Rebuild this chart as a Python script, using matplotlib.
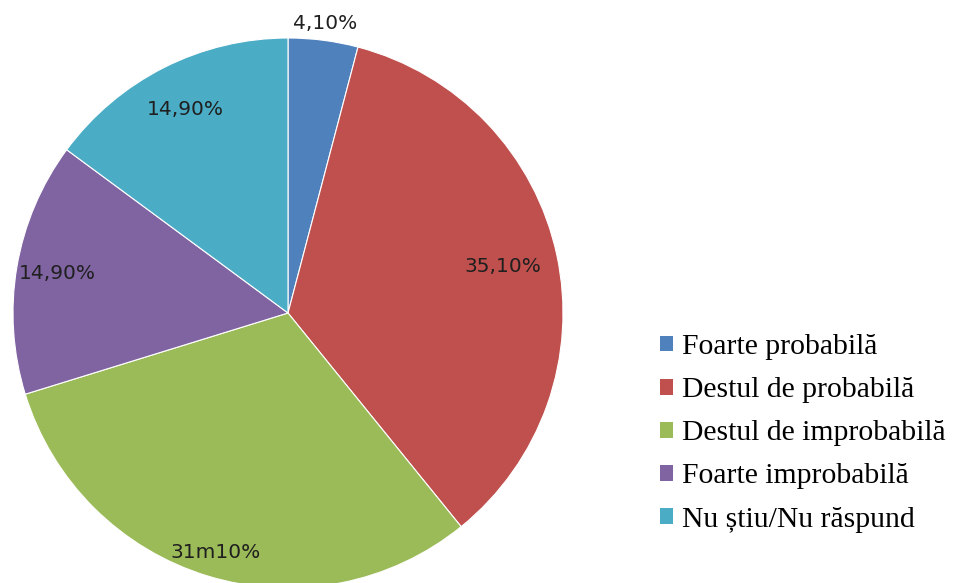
import numpy as np
import matplotlib
matplotlib.use("Agg")
import matplotlib.pyplot as plt
from matplotlib.patches import Patch

categories = ["Foarte probabilă", "Destul de probabilă", "Destul de improbabilă",
              "Foarte improbabilă", "Nu știu/Nu răspund"]
values = [4.1, 35.1, 31.1, 14.9, 14.9]
value_labels = ["4,10%", "35,10%", "31m10%", "14,90%", "14,90%"]
colors = ["#4F81BD", "#C0504D", "#9BBB59", "#8064A2", "#4BACC6"]
label_dist = [1.06, 0.80, 0.91, 0.85, 0.83]

W, H = 954, 583
fig = plt.figure(figsize=(W / 100, H / 100), dpi=100)
cx, cy, r = 288, 313, 275
ax = fig.add_axes([(cx - r) / W, (H - cy - r) / H, 2 * r / W, 2 * r / H])
wedges, _ = ax.pie(values, colors=colors, startangle=90, counterclock=False,
                   radius=1.0, wedgeprops=dict(edgecolor="white", linewidth=0.8))
ax.set_xlim(-1, 1)
ax.set_ylim(-1, 1)
ax.set_axis_off()

for w, lab, d in zip(wedges, value_labels, label_dist):
    ang = np.deg2rad((w.theta1 + w.theta2) / 2)
    ax.text(d * np.cos(ang), d * np.sin(ang), lab, ha="center", va="center",
            fontsize=14.5, color="#1f1f1f", family="DejaVu Sans", clip_on=False)

handles = [Patch(facecolor=c, edgecolor="none") for c in colors]
fig.legend(handles, categories, loc="upper left", bbox_to_anchor=(660 / W, 1 - 334 / H),
           frameon=False, prop=dict(family="Liberation Serif", size=21.3),
           handlelength=0.45, handleheight=0.45, handletextpad=0.3, labelspacing=0.58,
           borderaxespad=0, borderpad=0)

fig.savefig("out.png", dpi=100, facecolor="white")
